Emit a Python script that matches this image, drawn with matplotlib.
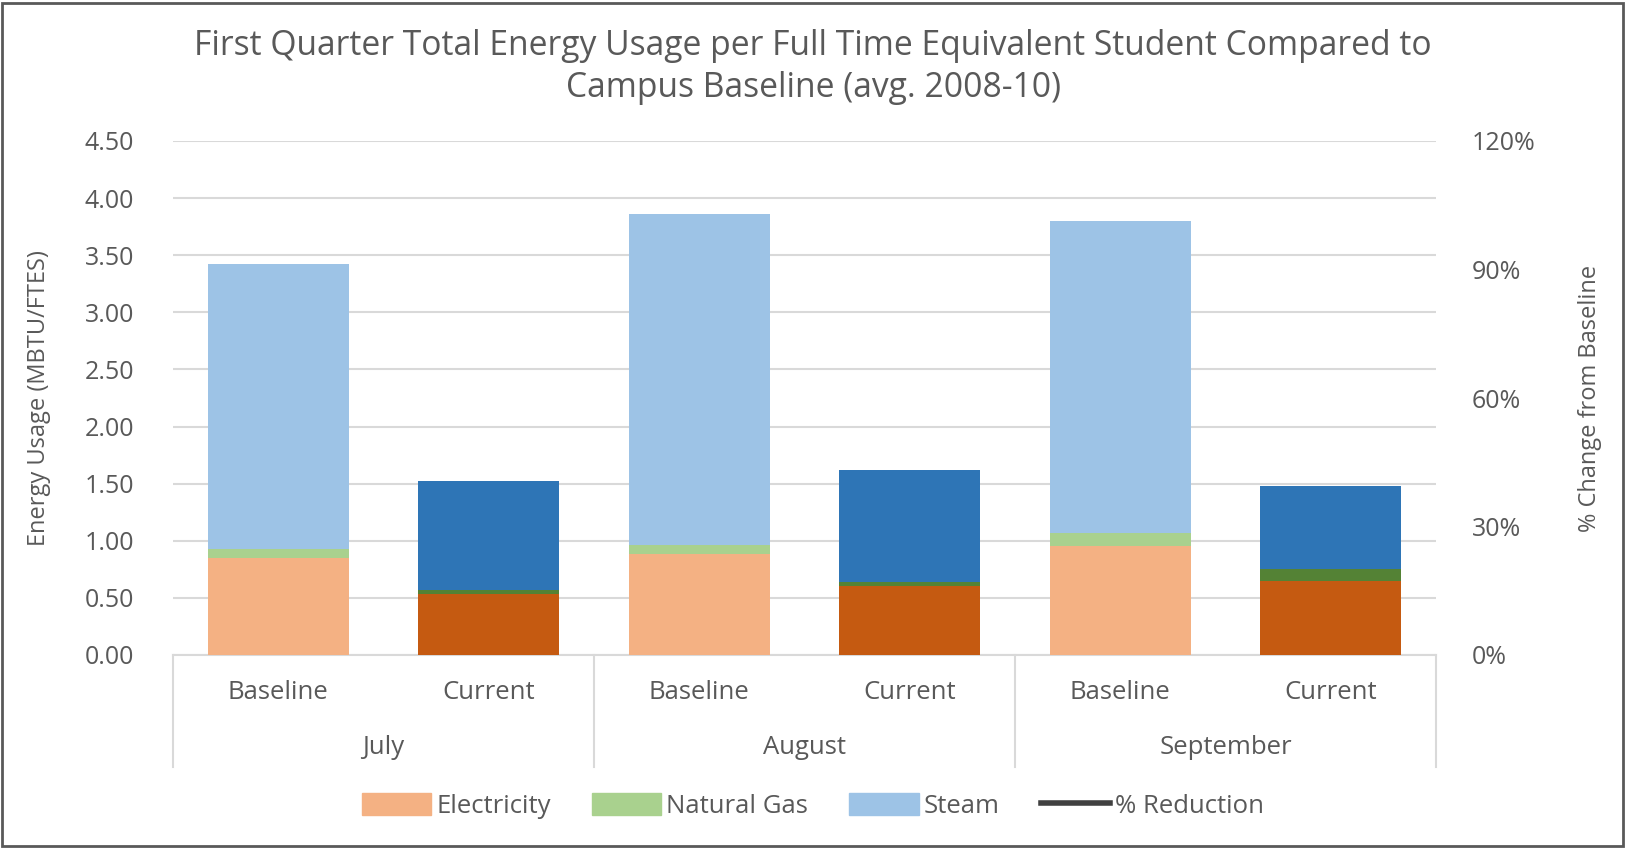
import matplotlib.pyplot as plt
from matplotlib.patches import Rectangle, Patch
from matplotlib.lines import Line2D
from matplotlib.ticker import FuncFormatter

## chart values (MBTU per FTE student)
months = ["July", "August", "September"]
kinds = ["Baseline", "Current"]
electricity = [0.85, 0.53, 0.88, 0.60, 0.95, 0.65]
natural_gas = [0.08, 0.04, 0.08, 0.04, 0.12, 0.10]
steam = [2.49, 0.95, 2.90, 0.98, 2.73, 0.73]
pct_reduction = []   # the line series has no visible points

## light colours for baseline, dark for current
light = {"elec": "#F4B183", "gas": "#A9D18E", "steam": "#9DC3E6"}
dark = {"elec": "#C55A11", "gas": "#548235", "steam": "#2E75B6"}
txt = "#595959"

plt.rcParams['font.family'] = ['Open Sans', 'DejaVu Sans']

fig = plt.figure(figsize=(16.26, 8.48), dpi=100)
ax = fig.add_axes([173/1626, 1 - 655/848, (1436-173)/1626, (655-141)/848])

x = list(range(len(electricity)))
ec = [light["elec"] if i % 2 == 0 else dark["elec"] for i in x]
gc = [light["gas"] if i % 2 == 0 else dark["gas"] for i in x]
sc = [light["steam"] if i % 2 == 0 else dark["steam"] for i in x]
bot2 = [e + g for e, g in zip(electricity, natural_gas)]

w = 0.67
ax.bar(x, electricity, w, color=ec, zorder=3)
ax.bar(x, natural_gas, w, bottom=electricity, color=gc, zorder=3)
ax.bar(x, steam, w, bottom=bot2, color=sc, zorder=3)

ax.set_xlim(-0.5, 5.5)
ax.set_ylim(0, 4.5)
ax.set_yticks([i * 0.5 for i in range(10)])
ax.yaxis.set_major_formatter(FuncFormatter(lambda v, p: "%.2f" % v))
ax.grid(axis="y", color="#D9D9D9", lw=1.5, zorder=0)
for s in ["top", "right", "left"]:
    ax.spines[s].set_visible(False)
ax.spines["bottom"].set_color("#D9D9D9")
ax.spines["bottom"].set_linewidth(1.5)
ax.tick_params(axis="y", length=0, labelsize=18, colors=txt, pad=28)
ax.set_xticks([])
ax.set_ylabel("Energy Usage (MBTU/FTES)", fontsize=17, color=txt, labelpad=24)

## secondary axis for % change
ax2 = ax.twinx()
ax2.plot(range(len(pct_reduction)), pct_reduction, color="#404040", lw=4)
ax2.set_ylim(0, 1.2)
ax2.set_yticks([0, 0.3, 0.6, 0.9, 1.2])
ax2.yaxis.set_major_formatter(FuncFormatter(lambda v, p: "%d%%" % round(v * 100)))
for s in ax2.spines.values():
    s.set_visible(False)
ax2.tick_params(axis="y", length=0, labelsize=18, colors=txt, pad=26)
ax2.set_ylabel("% Change from Baseline", fontsize=17, color=txt, labelpad=30)

## two level category axis
tr = ax.get_xaxis_transform()
for i in x:
    ax.text(i, -0.072, kinds[i % 2], transform=tr, ha="center", va="center",
            fontsize=18.5, color=txt)
for j, m in enumerate(months):
    ax.text(2 * j + 0.5, -0.18, m, transform=tr, ha="center", va="center",
            fontsize=18.5, color=txt)
for b in [-0.5, 1.5, 3.5, 5.5]:
    ax.plot([b, b], [0, -0.218], transform=tr, color="#D9D9D9", lw=1.5,
            clip_on=False)

fig.text(0.5, 1 - 67/848,
         "First Quarter Total Energy Usage per Full Time Equivalent Student Compared to\n"
         "Campus Baseline (avg. 2008-10)", ha="center", va="center", fontsize=24.2,
         color=txt, linespacing=1.28)

handles = [Patch(color=light["elec"]), Patch(color=light["gas"]),
           Patch(color=light["steam"]), Line2D([], [], color="#404040", lw=4)]
fig.legend(handles, ["Electricity", "Natural Gas", "Steam", "% Reduction"],
           loc="center", bbox_to_anchor=(0.5, 1 - 806/848), ncol=4, frameon=False,
           fontsize=18.5, labelcolor=txt, handlelength=2.7, handleheight=0.9,
           columnspacing=1.6, handletextpad=0.2)

fig.patches.append(Rectangle((0.001, 0.002), 0.997, 0.995, transform=fig.transFigure,
                             fill=False, edgecolor="#595959", lw=2))

fig.savefig("out.png", dpi=100)
